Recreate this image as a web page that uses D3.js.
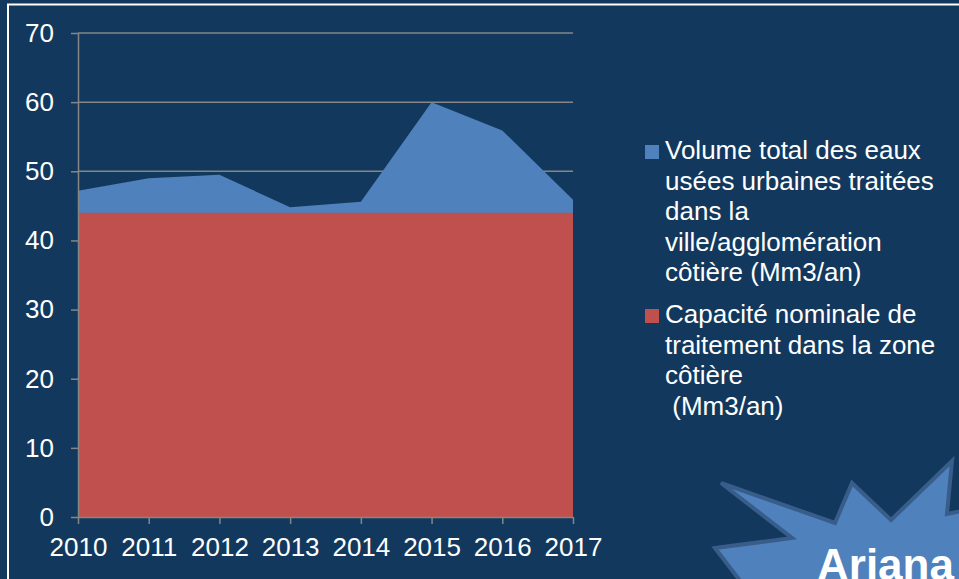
<!DOCTYPE html>
<html>
<head>
<meta charset="utf-8">
<script src="https://cdn.jsdelivr.net/npm/d3@7"></script>
<style>
  html, body { margin: 0; padding: 0; background: #12395d; }
  svg { display: block; }
  text { font-family: "Liberation Sans", Arial, sans-serif; fill: #fff; }
</style>
</head>
<body>
<svg id="chart" width="959" height="579"></svg>
<script>
const years = ['2010', '2011', '2012', '2013', '2014', '2015', '2016', '2017'];
const volumeTotal = [47.2, 49.0, 49.5, 44.8, 45.6, 60.0, 55.9, 45.9];
const capaciteNominale = [44, 44, 44, 44, 44, 44, 44, 44];
const yTicks = [0, 10, 20, 30, 40, 50, 60, 70];
const legendLabels = [
  ['Volume total des eaux', 'usées urbaines traitées', 'dans la', 'ville/agglomération', 'côtière (Mm3/an)'],
  ['Capacité nominale de', 'traitement dans la zone', 'côtière', '\u00a0(Mm3/an)']
];
const colors = ['#4f81bd', '#c0504d'];

const width = 959;
const height = 579;
const margin = { top: 33, right: 386, bottom: 62, left: 78 };

const svg = d3.select('#chart');

// frame
svg.append('rect')
  .attr('x', 8).attr('y', 4.5)
  .attr('width', 1000).attr('height', 700)
  .attr('fill', 'none')
  .attr('stroke', '#fff')
  .attr('stroke-width', 2);

const x = d3.scalePoint()
  .domain(years)
  .range([margin.left, width - margin.right]);

const y = d3.scaleLinear()
  .domain([0, 70])
  .range([height - margin.bottom, margin.top]);

// gridlines
svg.append('g')
  .selectAll('line')
  .data(yTicks.filter((d) => d > 0))
  .enter()
  .append('line')
  .attr('x1', margin.left)
  .attr('x2', width - margin.right)
  .attr('y1', (d) => y(d))
  .attr('y2', (d) => y(d))
  .attr('stroke', '#868686')
  .attr('stroke-width', 1.5);

// areas: volume behind, capacity in front
const area = (vals) => d3.area()
  .x((d, i) => x(years[i]))
  .y0(y(0))
  .y1((d) => y(d))(vals);

svg.append('path')
  .attr('d', area(volumeTotal))
  .attr('fill', colors[0]);

svg.append('path')
  .attr('d', area(capaciteNominale))
  .attr('fill', colors[1]);

// y axis
const yAxis = d3.axisLeft(y).tickValues(yTicks).tickSize(7).tickSizeOuter(0).tickPadding(17);
const gy = svg.append('g')
  .attr('transform', `translate(${margin.left},0)`)
  .call(yAxis);

// x axis
const xAxis = d3.axisBottom(x).tickSize(7).tickSizeOuter(0).tickPadding(14);
const gx = svg.append('g')
  .attr('transform', `translate(0,${y(0)})`)
  .call(xAxis);

[gx, gy].forEach((g) => {
  g.select('.domain').attr('stroke', '#868686').attr('stroke-width', 1.5);
  g.selectAll('.tick line').attr('stroke', '#868686').attr('stroke-width', 1.5);
  g.selectAll('.tick text')
    .attr('fill', '#fff')
    .style('font-family', '"Liberation Sans", Arial, sans-serif')
    .style('font-size', '26px');
});

// legend
const legend = svg.append('g');
const legendBase = [159, 323];
legendLabels.forEach((lines, i) => {
  legend.append('rect')
    .attr('x', 645)
    .attr('y', legendBase[i] - 14)
    .attr('width', 14)
    .attr('height', 14)
    .attr('fill', colors[i]);
  const t = legend.append('text')
    .attr('x', 665)
    .attr('y', legendBase[i])
    .style('font-size', '26px');
  lines.forEach((l, j) => {
    t.append('tspan')
      .attr('x', 665)
      .attr('dy', j === 0 ? 0 : 30.5)
      .text(l);
  });
});

// starburst label
svg.append('path')
  .attr('d', 'M715,548 L792,538 L721,483 L835,523 L852,483 L891,520 L952,461 L947,514 L990,505 L990,620 L770,620 Z')
  .attr('fill', '#4f81bd')
  .attr('stroke', '#385d8a')
  .attr('stroke-width', 4)
  .attr('stroke-linejoin', 'miter');

svg.append('text')
  .attr('x', 817)
  .attr('y', 580)
  .style('font-size', '44px')
  .style('font-weight', 'bold')
  .text('Ariana');
</script>
</body>
</html>
